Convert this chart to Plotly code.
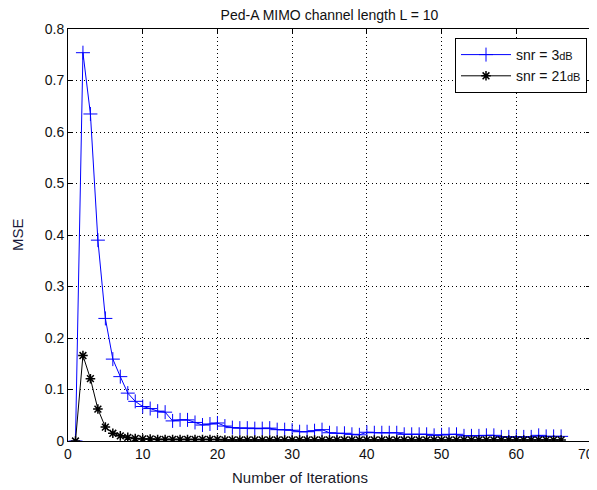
import plotly.graph_objects as go

iterations = list(range(1, 67))

mse_snr3 = [0.0, 0.754, 0.635, 0.390, 0.238, 0.159, 0.125, 0.093, 0.077, 0.067,
            0.063, 0.058, 0.056, 0.039, 0.041, 0.041, 0.036, 0.031, 0.033, 0.035,
            0.029, 0.026, 0.025, 0.025, 0.024, 0.024, 0.025, 0.022, 0.022, 0.021,
            0.018, 0.018, 0.020, 0.022, 0.016, 0.015, 0.015, 0.013, 0.012, 0.017,
            0.016, 0.016, 0.016, 0.016, 0.013, 0.013, 0.013, 0.013, 0.011, 0.012,
            0.013, 0.013, 0.010, 0.010, 0.010, 0.011, 0.011, 0.008, 0.008, 0.008,
            0.008, 0.008, 0.011, 0.009, 0.009, 0.009]

mse_snr21 = [0.0, 0.166, 0.121, 0.062, 0.027, 0.015, 0.010, 0.007, 0.005, 0.004,
             0.004, 0.003, 0.003, 0.003, 0.003, 0.003, 0.003, 0.003, 0.003, 0.003,
             0.002, 0.002, 0.002, 0.002, 0.002, 0.002, 0.002, 0.002, 0.002, 0.002,
             0.002, 0.002, 0.002, 0.002, 0.002, 0.002, 0.002, 0.002, 0.002, 0.002,
             0.002, 0.002, 0.002, 0.002, 0.002, 0.002, 0.002, 0.002, 0.002, 0.002,
             0.002, 0.002, 0.002, 0.002, 0.002, 0.002, 0.002, 0.002, 0.002, 0.002,
             0.002, 0.002, 0.002, 0.002, 0.002, 0.002]

x_tick_values = [0, 10, 20, 30, 40, 50, 60, 70]
x_tick_labels = ["0", "10", "20", "30", "40", "50", "60", "70"]

series_names = ['snr = 3<span style="font-size:11px">dB</span>',
                'snr = 21<span style="font-size:11px">dB</span>']

title_text = "Ped-A MIMO channel length L = 10"
x_label = "Number of Iterations"
y_label = "MSE"

FONT = "Liberation Sans, Arial, sans-serif"

# the page body adds an 8px offset; plot area target on screen: x 68..591, y 29..441
OFF = 8
L, T = 68 - OFF, 29 - OFF
PW, PH = 523, 412
W, H = 597, 490
R = W - L - PW
B = H - T - PH

fig = go.Figure()
fig.add_trace(go.Scatter(
    x=iterations, y=mse_snr3, name=series_names[0], mode="lines+markers",
    line=dict(color="#0000ff", width=1),
    marker=dict(symbol="cross-thin", size=10, color="#0000ff",
                line=dict(color="#0000ff", width=1)),
))
fig.add_trace(go.Scatter(
    x=iterations, y=mse_snr21, name=series_names[1], mode="lines+markers",
    line=dict(color="#000000", width=1),
    marker=dict(symbol="asterisk", size=8, color="#000000",
                line=dict(color="#000000", width=1.5)),
))

axis_common = dict(
    showline=True, linecolor="black", linewidth=1, mirror="allticks",
    ticks="inside", ticklen=5, tickcolor="black",
    showgrid=True, gridcolor="black", griddash="1px,3px", gridwidth=1,
    zeroline=False, tickfont=dict(family=FONT, size=14, color="#111"),
)

# last x label is drawn as an annotation so it stays inside the window
fig.update_xaxes(range=[0, 70], tickvals=x_tick_values,
                 ticktext=x_tick_labels[:-1] + [""], **axis_common)
fig.update_yaxes(range=[0, 0.8], dtick=0.1, tick0=0, **axis_common)

def sx(px):
    return (px - 68) / PW

def sy(py):
    return (441 - py) / PH

fig.update_layout(
    width=W, height=H,
    margin=dict(l=L, r=R, t=T, b=B, autoexpand=False),
    paper_bgcolor="white", plot_bgcolor="white",
    font=dict(family=FONT, color="#111"),
    title=dict(text=title_text, x=0.5, xref="paper", y=1 - (15.5 - OFF) / H,
               yref="container", yanchor="middle", xanchor="center",
               font=dict(family=FONT, size=14, color="#111")),
    showlegend=True,
    legend=dict(x=sx(587), y=sy(38), xanchor="right", yanchor="top",
                bgcolor="white", bordercolor="black", borderwidth=1,
                font=dict(family=FONT, size=14, color="#111"),
                tracegroupgap=0, itemwidth=50),
    annotations=[
        dict(text=x_label, xref="paper", yref="paper", x=sx(300),
             y=sy(477), showarrow=False, xanchor="center", yanchor="middle",
             font=dict(family=FONT, size=15, color="#1a1a2a")),
        dict(text=y_label, xref="paper", yref="paper", x=sx(17), y=0.5,
             showarrow=False, textangle=-90, xanchor="center", yanchor="middle",
             font=dict(family=FONT, size=15, color="#1a1a3a")),
        dict(text=x_tick_labels[-1], xref="paper", yref="paper", x=sx(596),
             y=sy(454), showarrow=False, xanchor="right", yanchor="middle",
             font=dict(family=FONT, size=14, color="#111")),
    ],
)

fig.write_html("out.html")
